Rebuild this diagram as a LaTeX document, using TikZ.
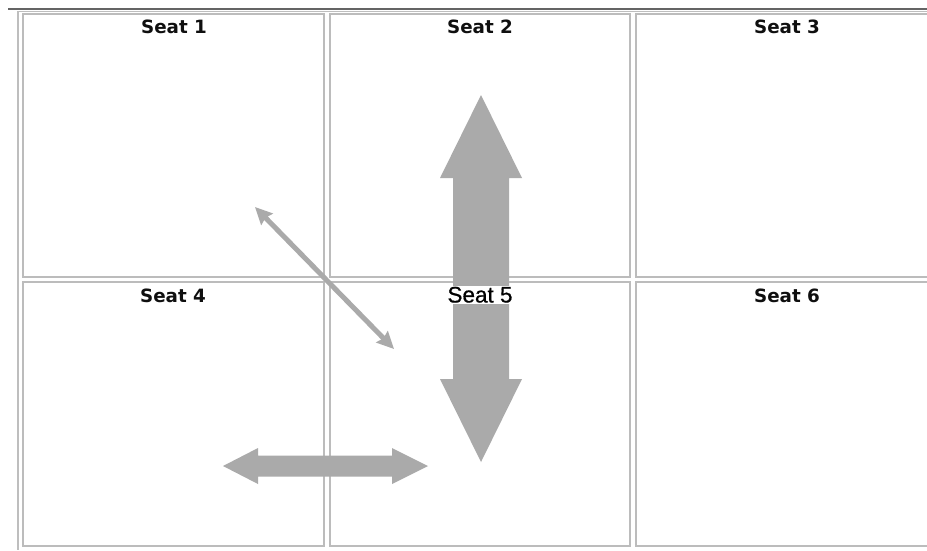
\documentclass[tikz,border=0pt]{standalone}
\usepackage{fontspec}
\setmainfont{DejaVu Sans}
\newfontfamily\plainsans[FakeBold=0.6]{Liberation Sans}
\usetikzlibrary{arrows.meta}
\definecolor{rulegray}{RGB}{100,100,100}
\definecolor{framegray}{RGB}{190,190,190}
\definecolor{cellgray}{RGB}{188,188,188}
\definecolor{arrowgray}{RGB}{170,170,170}
\definecolor{labelink}{RGB}{15,15,15}
\begin{document}
\begin{tikzpicture}[x=1pt,y=-1pt,
  cellbox/.style={draw=cellgray,line width=1.6pt},
  seatlabel/.style={anchor=base,inner sep=0pt,text=labelink,font=\fontsize{18.3}{21}\selectfont\bfseries},
  bigarrow/.style={fill=arrowgray,draw=none},
  thinarrow/.style={draw=arrowgray,line width=5pt,{Stealth[inset=2pt,length=17pt,width=16pt]}-{Stealth[inset=2pt,length=17pt,width=16pt]}}]
  \useasboundingbox (0,0) rectangle (927,550);
  \fill[white] (0,0) rectangle (927,550);

  % outer table frame
  \draw[rulegray,line width=2pt] (8,9) -- (927,9);
  \draw[framegray,line width=1pt] (17,11.5) -- (927,11.5);
  \draw[framegray,line width=1.6pt] (18,11.5) -- (18,550);

  % six seat cells
  \draw[cellbox] (23,14) rectangle (324,277);
  \draw[cellbox] (330,14) rectangle (630,277);
  \draw[cellbox] (636,14) rectangle (940,277);
  \draw[cellbox] (23,282) rectangle (324,546);
  \draw[cellbox] (330,282) rectangle (630,546);
  \draw[cellbox] (636,282) rectangle (940,546);

  % large vertical double arrow
  \fill[bigarrow] (481,95) -- (522,178) -- (509,178) -- (509,379) -- (522,379)
     -- (481,462) -- (440,379) -- (453,379) -- (453,178) -- (440,178) -- cycle;

  % horizontal double arrow
  \fill[bigarrow] (223,466) -- (258,448) -- (258,455.5) -- (392,455.5) -- (392,448)
     -- (428,466) -- (392,484) -- (392,476.5) -- (258,476.5) -- (258,484) -- cycle;

  % thin diagonal double arrow
  \coordinate (diagA) at (255,207);
  \coordinate (diagB) at (394,349);
  \draw[thinarrow] (diagA) -- (diagB);

  % seat labels
  \node[seatlabel] (s1) at (174,33) {Seat 1};
  \node[seatlabel] (s2) at (480,33) {Seat 2};
  \node[seatlabel] (s3) at (787,33) {Seat 3};
  \node[seatlabel] (s4) at (173,302) {Seat 4};
  \node[anchor=base,inner sep=1pt,fill=white,text=black,
        font=\plainsans\fontsize{22.5}{25}\selectfont] (s5) at (480,302.5) {Seat 5};
  \node[seatlabel] (s6) at (787,302) {Seat 6};
\end{tikzpicture}
\end{document}
